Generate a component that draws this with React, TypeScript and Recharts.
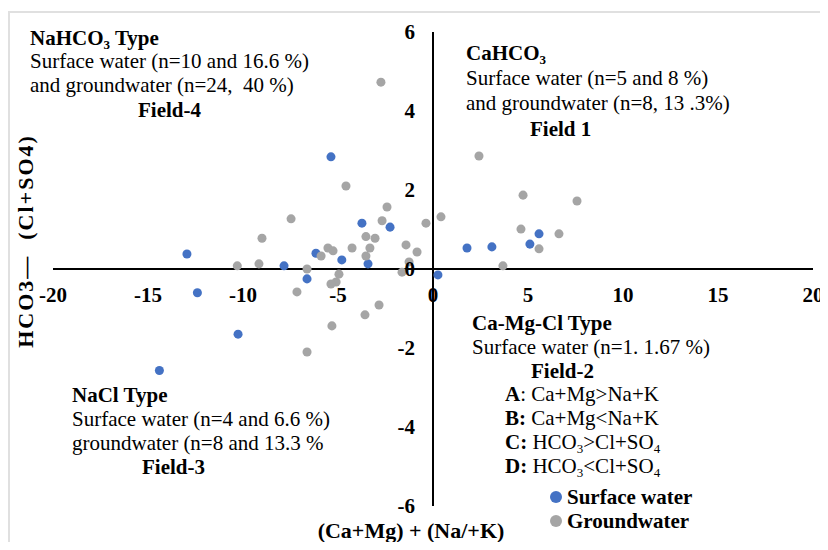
import React from 'react';
import { ScatterChart, Scatter, XAxis, YAxis, ZAxis, ReferenceLine, Legend } from 'recharts';

// values
const surfaceWater = [
  { x: -5.37, y: 2.84 }, { x: -12.95, y: 0.38 }, { x: -12.4, y: -0.6 }, { x: -10.26, y: -1.65 },
  { x: -14.4, y: -2.57 }, { x: -7.84, y: 0.08 }, { x: -6.63, y: -0.25 }, { x: -6.16, y: 0.4 },
  { x: -4.8, y: 0.23 }, { x: -3.74, y: 1.16 }, { x: -2.26, y: 1.06 }, { x: -3.42, y: 0.13 },
  { x: 0.26, y: -0.15 }, { x: 1.79, y: 0.53 }, { x: 3.1, y: 0.56 }, { x: 5.1, y: 0.63 },
  { x: 5.58, y: 0.89 },
];

const groundwater = [
  { x: -2.74, y: 4.73 }, { x: -4.58, y: 2.1 }, { x: -2.42, y: 1.57 }, { x: -2.68, y: 1.22 },
  { x: -7.47, y: 1.27 }, { x: -9.0, y: 0.78 }, { x: -0.37, y: 1.16 }, { x: 0.42, y: 1.32 },
  { x: -3.53, y: 0.82 }, { x: -3.05, y: 0.78 }, { x: -3.32, y: 0.53 }, { x: -3.53, y: 0.33 },
  { x: -4.26, y: 0.53 }, { x: -5.53, y: 0.53 }, { x: -5.26, y: 0.46 }, { x: -5.89, y: 0.33 },
  { x: -1.42, y: 0.61 }, { x: -0.84, y: 0.43 }, { x: -1.26, y: 0.18 }, { x: -1.63, y: -0.08 },
  { x: -10.3, y: 0.08 }, { x: -9.16, y: 0.13 }, { x: -6.63, y: 0.0 }, { x: -4.95, y: -0.13 },
  { x: -5.1, y: -0.33 }, { x: -5.37, y: -0.38 }, { x: -7.16, y: -0.58 }, { x: -2.84, y: -0.91 },
  { x: -3.58, y: -1.16 }, { x: -5.32, y: -1.44 }, { x: -6.63, y: -2.1 }, { x: 2.42, y: 2.86 },
  { x: 4.74, y: 1.87 }, { x: 7.58, y: 1.72 }, { x: 4.63, y: 1.01 }, { x: 6.63, y: 0.89 },
  { x: 5.58, y: 0.51 }, { x: 3.68, y: 0.08 },
];

const xTicks = [-20, -15, -10, -5, 0, 5, 10, 15, 20];
const yTicks = [-6, -4, -2, 0, 2, 4, 6];
const legendOrder = ['Surface water', 'Groundwater'];

const FONT = "'Liberation Serif', 'Times New Roman', serif";
const W = 820;
const H = 534;
// axes are 1px wide/high (a 0 size axis draws no ticks), so margins are 1 less
const M = { top: 24, right: 15, bottom: 35, left: 44 };
const X0 = M.left + 1 + (W - M.left - 1 - M.right) / 2;
const Y0 = M.top + (H - M.top - M.bottom - 1) / 2;

const renderXTick = (props: any) => (
  <text x={props.x} y={Y0 + 26} dy="0.35em" textAnchor="middle"
    fontFamily={FONT} fontSize={21} fontWeight={700} fill="#000">
    {props.payload.value}
  </text>
);

const renderYTick = (props: any) => (
  <text x={X0 - 18} y={props.y} dy="0.35em" textAnchor="end"
    fontFamily={FONT} fontSize={21} fontWeight={700} fill="#000">
    {props.payload.value}
  </text>
);

const renderLegend = (props: any) => {
  const items = [...(props.payload || [])].sort(
    (a: any, b: any) => legendOrder.indexOf(a.value) - legendOrder.indexOf(b.value)
  );
  return (
    <div>
      {items.map((e: any) => (
        <div key={e.value} style={{ display: 'flex', alignItems: 'center', height: 24 }}>
          <span style={{ width: 12, height: 12, borderRadius: '50%', background: e.color, marginRight: 5 }} />
          <span style={{ fontFamily: FONT, fontSize: 21, fontWeight: 700, color: '#000' }}>{e.value}</span>
        </div>
      ))}
    </div>
  );
};

const Sub = ({ children }: { children: React.ReactNode }) => (
  <sub style={{ fontSize: '0.62em', verticalAlign: '-0.3em', lineHeight: 0 }}>{children}</sub>
);

// positions given in page pixels (x = left edge, cy = line centre)
const Note = ({ x, cy, bold, children }: { x: number; cy: number; bold?: boolean; children: React.ReactNode }) => (
  <div style={{
    position: 'absolute', left: x - 8, top: cy - 8 - 12, lineHeight: '24px',
    fontSize: 21, fontFamily: FONT, fontWeight: bold ? 700 : 400, whiteSpace: 'nowrap', color: '#000',
  }}>
    {children}
  </div>
);

export default function App() {
  return (
    <div style={{ position: 'relative', width: W, height: H }}>
      <div style={{
        position: 'absolute', left: 0, top: 3, width: W, height: H - 3, boxSizing: 'border-box',
        borderTop: '2px solid #e0e0e0', borderLeft: '2px solid #e0e0e0',
      }} />
      <ScatterChart width={W} height={H} margin={M}>
        <XAxis type="number" dataKey="x" domain={[-20, 20]} ticks={xTicks} interval={0}
          axisLine={false} tickLine={false} height={1} tick={renderXTick} />
        <YAxis type="number" dataKey="y" domain={[-6, 6]} ticks={yTicks} interval={0}
          axisLine={false} tickLine={false} width={1} tick={renderYTick} />
        <ZAxis range={[120, 120]} />
        <ReferenceLine x={0} stroke="#000" strokeWidth={2} />
        <ReferenceLine y={0} stroke="#000" strokeWidth={2} />
        <Legend layout="vertical" align="center" verticalAlign="middle" content={renderLegend}
          wrapperStyle={{ left: 542, top: 477, width: 220 }} />
        <Scatter name="Surface water" data={surfaceWater} fill="#4472C4" isAnimationActive={false} />
        <Scatter name="Groundwater" data={groundwater} fill="#A5A5A5" isAnimationActive={false} />
      </ScatterChart>

      <div style={{
        position: 'absolute', left: 26 - 8 - 150, top: 241 - 8 - 12, width: 300, textAlign: 'center',
        lineHeight: '24px', transform: 'rotate(-90deg)', fontFamily: FONT, fontSize: 22, fontWeight: 700,
        letterSpacing: 2, whiteSpace: 'pre', color: '#000',
      }}>
        {'HCO3—  (Cl+SO4)'}
      </div>
      <div style={{
        position: 'absolute', left: 411 - 8 - 150, top: 531 - 8 - 12, width: 300, textAlign: 'center',
        lineHeight: '24px', fontFamily: FONT, fontSize: 22, fontWeight: 700, color: '#000', whiteSpace: 'nowrap',
      }}>
        (Ca+Mg) + (Na/+K)
      </div>

      <Note x={30} cy={38} bold>NaHCO<Sub>3</Sub> Type</Note>
      <Note x={30} cy={61}>Surface water (n=10 and 16.6 %)</Note>
      <Note x={30} cy={85}>{'and groundwater (n=24,\u00a0 40 %)'}</Note>
      <Note x={138} cy={110} bold>Field-4</Note>

      <Note x={466} cy={53} bold>CaHCO<Sub>3</Sub></Note>
      <Note x={466} cy={78}>Surface water (n=5 and 8 %)</Note>
      <Note x={466} cy={103}>and groundwater (n=8, 13 .3%)</Note>
      <Note x={530} cy={129} bold>Field 1</Note>

      <Note x={472} cy={323} bold>Ca-Mg-Cl Type</Note>
      <Note x={472} cy={347}>Surface water (n=1. 1.67 %)</Note>
      <Note x={531} cy={371} bold>Field-2</Note>
      <Note x={505} cy={394}><b>A</b>: Ca+Mg&gt;Na+K</Note>
      <Note x={505} cy={418}><b>B:</b> Ca+Mg&lt;Na+K</Note>
      <Note x={505} cy={442}><b>C:</b> HCO<Sub>3</Sub>&gt;Cl+SO<Sub>4</Sub></Note>
      <Note x={505} cy={466}><b>D:</b> HCO<Sub>3</Sub>&lt;Cl+SO<Sub>4</Sub></Note>

      <Note x={72} cy={395} bold>NaCl Type</Note>
      <Note x={72} cy={419}>Surface water (n=4 and 6.6 %)</Note>
      <Note x={72} cy={443}>groundwater (n=8 and 13.3 %</Note>
      <Note x={142} cy={467} bold>Field-3</Note>
    </div>
  );
}
